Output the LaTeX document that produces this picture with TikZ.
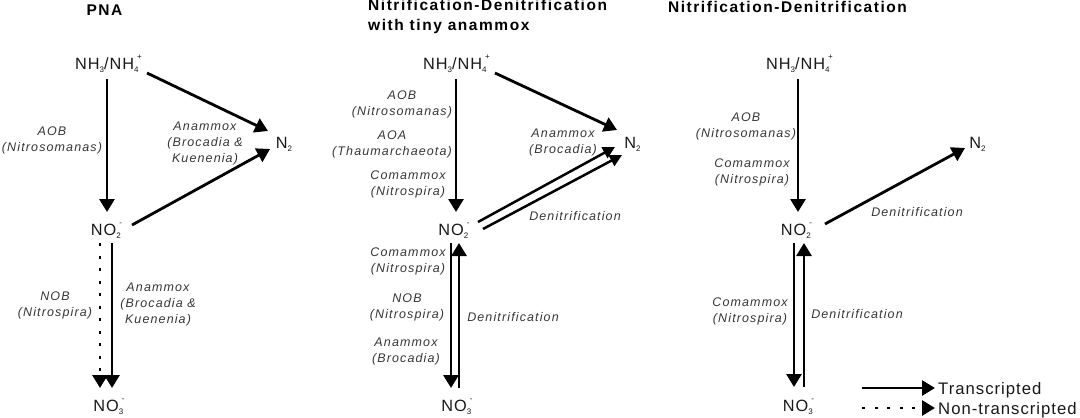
\documentclass[tikz,border=0pt]{standalone}
\usepackage{fontspec}
\setmainfont{Liberation Sans}
\newfontfamily\specfont{Liberation Sans}[LetterSpace=6]
\newfontfamily\labfont{Liberation Sans}[LetterSpace=9]
\newfontfamily\ttlfont{Liberation Sans}[LetterSpace=10]
\usetikzlibrary{arrows.meta}
\definecolor{spc}{RGB}{25,25,25}
\definecolor{labc}{RGB}{55,55,55}
\newcommand\sbs[1]{\raisebox{-0.22em}{\fontsize{8}{8}\selectfont #1}}
\newcommand\sps[1]{\raisebox{0.6em}{\fontsize{8}{8}\selectfont #1}}
\begin{document}
\begin{tikzpicture}[x=1pt,y=-1pt,
  species/.style={font={\specfont\fontsize{16.3}{19}\selectfont}, text=spc, inner sep=0pt, text height=12pt, text depth=3pt},
  lab/.style={font={\labfont\itshape\fontsize{12.5}{16}\selectfont}, text=labc, align=center, inner sep=0pt},
  ttl/.style={font={\ttlfont\bfseries\fontsize{15.5}{20}\selectfont}, inner sep=0pt},
  legend/.style={font={\specfont\fontsize{16.7}{19}\selectfont}, text=spc, inner sep=0pt, text height=12pt, text depth=3pt},
  arr/.style={line width=2.8pt, -{Triangle[width=15pt,length=13pt]}},
  arrs/.style={line width=2.5pt, -{Triangle[width=12pt,length=12pt]}},
  dotline/.style={dash pattern=on 3pt off 9.5pt}]
\useasboundingbox (0,0) rectangle (1080,418);
\fill[white] (0,0) rectangle (1080,418);

% ---------- Panel 1: PNA ----------
\node[ttl] (t1) at (104.5,10.5) {PNA};
\node[species] (nh1) at (108.5,64.5) {NH\sbs{3}/NH\sbs{4}\kern-1.5pt\sps{+}};
\node[species] (n21) at (284,143.5) {N\sbs{2}};
\node[species] (no21) at (106.5,230.5) {NO\sbs{2}\kern-1.5pt\sps{-}};
\node[species] (no31) at (109,406.5) {NO\sbs{3}\kern-1.5pt\sps{-}};

\draw[arr] ([shift={(-1.5,14.5)}]nh1.center) -- ([shift={(0.5,-18.5)}]no21.center);
\draw[arr] ([shift={(38.5,8.5)}]nh1.center) -- ([shift={(-16,-12.5)}]n21.center);
\draw[arr] ([shift={(25.5,-5.5)}]no21.center) -- ([shift={(-14,5.5)}]n21.center);
\draw[arr,dotline] ([shift={(-6.5,12.5)}]no21.center) -- ([shift={(-9,-18.5)}]no31.center);
\draw[arr] ([shift={(5.5,12.5)}]no21.center) -- ([shift={(3,-18.5)}]no31.center);

\node[lab] (l1a) at (52,140.5) {AOB\\(Nitrosomanas)};
\node[lab] (l1b) at (205,143.5) {Anammox\\(Brocadia \&\\Kuenenia)};
\node[lab] (l1c) at (55,305) {NOB\\(Nitrospira)};
\node[lab] (l1d) at (158,304.5) {Anammox\\(Brocadia \&\\Kuenenia)};

% ---------- Panel 2 ----------
\node[ttl, align=left, anchor=west] (t2) at (368,16.5) {Nitrification-Denitrification\\with tiny anammox};
\node[species] (nh2) at (456.5,64.5) {NH\sbs{3}/NH\sbs{4}\kern-1.5pt\sps{+}};
\node[species] (n22) at (632.5,143.5) {N\sbs{2}};
\node[species] (no22) at (454,230.5) {NO\sbs{2}\kern-1.5pt\sps{-}};
\node[species] (no32) at (457,406.5) {NO\sbs{3}\kern-1.5pt\sps{-}};

\draw[arr] ([shift={(-0.5,14.5)}]nh2.center) -- ([shift={(2,-18.5)}]no22.center);
\draw[arr] ([shift={(38.5,8.5)}]nh2.center) -- ([shift={(-15.5,-13.5)}]n22.center);
\draw[arrs] ([shift={(24,-8.5)}]no22.center) -- ([shift={(-17.5,3.5)}]n22.center);
\draw[arrs] ([shift={(29,-1.5)}]no22.center) -- ([shift={(-10.5,11.5)}]n22.center);
\draw[arr] ([shift={(-3,12.5)}]no22.center) -- ([shift={(-6,-18.5)}]no32.center);
\draw[arr] ([shift={(2,-18.5)}]no32.center) -- ([shift={(5,12.5)}]no22.center);

\node[lab] (l2a) at (402,104.5) {AOB\\(Nitrosomanas)};
\node[lab] (l2b) at (392,144.5) {AOA\\(Thaumarchaeota)};
\node[lab] (l2c) at (408,184) {Comammox\\(Nitrospira)};
\node[lab] (l2d) at (563,142.5) {Anammox\\(Brocadia)};
\node[lab] (l2e) at (575,216) {Denitrification};
\node[lab] (l2f) at (408,261) {Comammox\\(Nitrospira)};
\node[lab] (l2g) at (407,307.5) {NOB\\(Nitrospira)};
\node[lab] (l2h) at (406,351.5) {Anammox\\(Brocadia)};
\node[lab] (l2i) at (513,317) {Denitrification};

% ---------- Panel 3 ----------
\node[ttl] (t3) at (787.5,6.5) {Nitrification-Denitrification};
\node[species] (nh3) at (799.5,64.5) {NH\sbs{3}/NH\sbs{4}\kern-1.5pt\sps{+}};
\node[species] (n23) at (977.5,143.5) {N\sbs{2}};
\node[species] (no23) at (796.5,230.5) {NO\sbs{2}\kern-1.5pt\sps{-}};
\node[species] (no33) at (798.5,406.5) {NO\sbs{3}\kern-1.5pt\sps{-}};

\draw[arr] ([shift={(-1.5,14.5)}]nh3.center) -- ([shift={(1.5,-18.5)}]no23.center);
\draw[arr] ([shift={(28.5,-6.5)}]no23.center) -- ([shift={(-12.5,4.5)}]n23.center);
\draw[arr] ([shift={(-2.5,12.5)}]no23.center) -- ([shift={(-4.5,-19.5)}]no33.center);
\draw[arr] ([shift={(5.5,-19.5)}]no33.center) -- ([shift={(7.5,12.5)}]no23.center);

\node[lab] (l3a) at (746,126.5) {AOB\\(Nitrosomanas)};
\node[lab] (l3b) at (752,172.5) {Comammox\\(Nitrospira)};
\node[lab] (l3c) at (917,212) {Denitrification};
\node[lab] (l3d) at (750,311.5) {Comammox\\(Nitrospira)};
\node[lab] (l3e) at (857,314) {Denitrification};

% ---------- Legend ----------
\node[legend, anchor=west] (lt1) at (938,389.5) {Transcripted};
\node[legend, anchor=west] (lt2) at (938,409.5) {Non-transcripted};
\coordinate (ls1) at (862,388);
\coordinate (ls2) at (862,408);
\draw[arr] (ls1) -- ([shift={(-3,-1.5)}]lt1.west);
\draw[arr,dotline] (ls2) -- ([shift={(-3,-1.5)}]lt2.west);
\end{tikzpicture}
\end{document}
